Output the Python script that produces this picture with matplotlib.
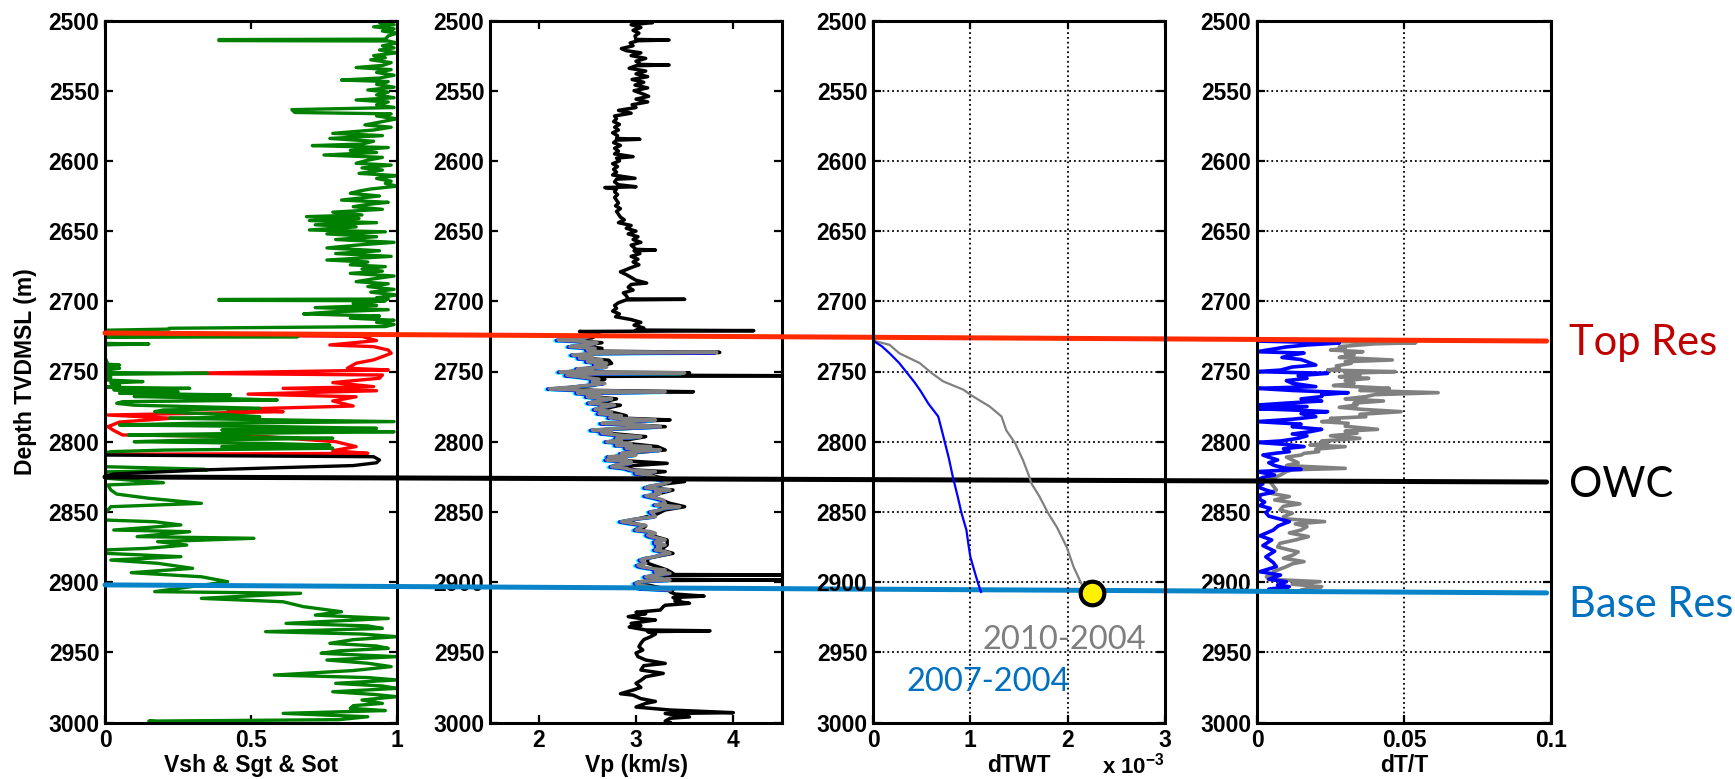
import matplotlib
matplotlib.use("Agg")
import matplotlib.pyplot as plt
from matplotlib.patches import ConnectionPatch
from matplotlib import patheffects as pe

plt.rcParams['font.family'] = ['Liberation Sans', 'DejaVu Sans']
plt.rcParams['mathtext.fontset'] = 'custom'
plt.rcParams['mathtext.rm'] = 'Liberation Sans:bold'
plt.rcParams['mathtext.default'] = 'rm'

# ---------------- data ----------------
depth_ticks = [2500, 2550, 2600, 2650, 2700, 2750, 2800, 2850, 2900, 2950, 3000]

# panel 1: Vsh (green), Sgt (red), Sot (black)
vsh_depth = [2500, 2501.5, 2503, 2504.5, 2506, 2507.5, 2509, 2511, 2513.3, 2513.6, 2514.3, 2514.6, 2516, 2518,
             2519.5, 2521, 2523, 2525, 2526.5, 2528, 2530, 2532, 2533.5, 2535, 2537, 2539, 2541, 2542.4, 2543.5,
             2545.5, 2547.5, 2549.5, 2551, 2553, 2555, 2556.6, 2558, 2560, 2562, 2563.5, 2565.5, 2566.5, 2568, 2570,
             2572, 2574.4, 2576, 2578, 2580.4, 2582, 2584, 2586, 2588, 2589.1, 2590.5, 2592.5, 2594, 2595.8, 2597.5,
             2599.5, 2601.7, 2603, 2605, 2606.5, 2608.9, 2610.5, 2612.5, 2614.5, 2616, 2618, 2620, 2621.5, 2623.1,
             2625, 2627.9, 2629.5, 2631, 2632.6, 2634.5, 2636.5, 2638.5, 2639.7, 2641, 2642.5, 2644, 2645.5, 2647,
             2649.2, 2650.5, 2652, 2654, 2656, 2658, 2660, 2662, 2664, 2666, 2668, 2670.6, 2672, 2674, 2675.3, 2677,
             2678.5, 2680.1, 2682, 2684, 2686, 2687.5, 2689.5, 2691.5, 2693.5, 2695.5, 2697.5, 2698.4, 2698.7,
             2699.3, 2699.6, 2701.4, 2703, 2704.5, 2706, 2707.5, 2709, 2710.5, 2712, 2713.5, 2715, 2716.5, 2718,
             2719.2, 2719.8, 2720.6, 2724.7, 2725.2, 2725.7, 2730.0, 2730.4, 2731.0, 2740, 2744.8, 2745.4, 2746.5,
             2747.7, 2749, 2750.8, 2751.3, 2752, 2754, 2756, 2757.2, 2758.2, 2759.6, 2761.2, 2762, 2763, 2764.4,
             2765.5, 2766.7, 2767.8, 2769.1, 2770.3, 2771.5, 2772.7, 2774, 2776.2, 2777.4, 2778.6, 2780.5, 2782.2,
             2783.3, 2784.5, 2785.7, 2786.9, 2788.1, 2789.3, 2790.5, 2791.7, 2792.9, 2794, 2795.2, 2796.4, 2797.6,
             2798.8, 2800, 2801.2, 2802.4, 2803.5, 2804.7, 2806, 2807.1, 2808, 2817.8, 2819.6, 2820.2, 2821.5,
             2826.1, 2829.2, 2830.8, 2834.4, 2837.3, 2840.3, 2843.9, 2846.3, 2851, 2855.8, 2857, 2859.3, 2862.9,
             2864.1, 2867.6, 2868.8, 2871.2, 2873.6, 2876, 2877.1, 2879.5, 2881.9, 2884.3, 2886.6, 2890.2, 2893.3,
             2896.2, 2899.7, 2902.8, 2906.8, 2908, 2911.6, 2914, 2917.5, 2921.1, 2923.5, 2925.9, 2929.4, 2931.2,
             2933, 2935.3, 2937, 2938.9, 2941, 2943.6, 2945.5, 2947.2, 2949, 2950.7, 2953.1, 2955.5, 2957.8,
             2960.2, 2963, 2966.2, 2968, 2969.7, 2972.1, 2974, 2975.7, 2978.1, 2980, 2981.6, 2984, 2986.4, 2988,
             2989.9, 2991.5, 2993.5, 2995.9, 2998, 2999, 2999.7]
vsh_value = [0.98, 0.94, 0.99, 0.92, 0.99, 0.95, 1.0, 0.97, 0.96, 0.39, 0.39, 0.97, 1.0, 0.95,
             0.99, 0.94, 1.0, 0.92, 0.96, 0.91, 0.98, 0.95, 0.86, 0.98, 0.93, 0.99, 0.94, 0.81, 0.97,
             0.93, 0.99, 0.9, 0.97, 0.93, 0.99, 0.86, 0.97, 0.93, 0.99, 0.64, 0.65, 0.98, 0.93, 1.0,
             0.95, 0.89, 0.98, 0.92, 0.78, 0.95, 0.77, 0.92, 0.88, 0.71, 0.97, 0.84, 0.93, 0.75, 0.95,
             0.9, 0.86, 0.98, 0.88, 0.95, 0.87, 1.0, 0.93, 0.98, 0.96, 1.0, 0.91, 0.87, 0.84,
             0.94, 0.81, 0.97, 0.9, 0.85, 0.95, 0.78, 0.88, 0.69, 0.87, 0.7, 0.93, 0.72, 0.86,
             0.7, 0.96, 0.76, 0.93, 0.79, 0.99, 0.86, 0.76, 0.94, 0.79, 0.98, 0.76, 0.9, 0.84, 0.96, 0.88,
             0.95, 0.84, 0.99, 0.92, 0.86, 0.97, 0.9, 0.99, 0.91, 1.0, 0.93, 0.97, 0.39,
             0.39, 0.96, 0.85, 0.93, 0.72, 0.97, 0.78, 0.68, 0.94, 0.84, 0.99, 0.93, 0.99, 0.96,
             0.22, 0.22, 0.0, 0.0, 0.66, 0.0, 0.0, 0.15, 0.0, 0.0, 0.01, 0.05, 0.01,
             0.05, 0.0, 0.02, 0.35, 0.0, 0.02, 0.0, 0.13, 0.02, 0.05, 0.0, 0.29, 0.03, 0.25,
             0.05, 0.43, 0.1, 0.38, 0.59, 0.06, 0.04, 0.1, 0.53, 0.2, 0.17, 0.4, 0.53,
             0.22, 0.6, 0.99, 0.3, 0.05, 0.6, 0.93, 0.4, 0.99, 0.5, 0.08, 0.45, 0.78,
             0.3, 0.1, 0.55, 0.77, 0.4, 0.78, 0.2, 0.02, 0.0, 0.0, 0.34, 0.35, 0.0,
             0.01, 0.2, 0.01, 0.02, 0.04, 0.15, 0.33, 0.02, 0.0, 0.0, 0.17, 0.26, 0.03,
             0.29, 0.11, 0.51, 0.18, 0.28, 0.14, 0.0, 0.0, 0.26, 0.02, 0.18, 0.30, 0.09,
             0.33, 0.42, 0.31, 0.17, 0.67, 0.33, 0.61, 0.68, 0.81, 0.72, 0.97, 0.62, 0.9,
             0.95, 0.55, 0.88, 1.0, 0.85, 0.77, 0.93, 0.97, 0.8, 0.74, 1.0, 0.76, 0.9,
             0.98, 0.85, 0.58, 0.9, 1.0, 0.79, 0.95, 1.0, 0.78, 0.92, 1.0, 0.88, 0.95, 0.85,
             0.84, 0.96, 0.61, 0.9, 0.8, 0.15, 0.2]

sgt_depth = [2723.5, 2725, 2728, 2731.1, 2732.3, 2734.7, 2737, 2739.4, 2741.7, 2744.1, 2747.7, 2748.9, 2751.3,
             2752.5, 2754.8, 2757.9, 2760.8, 2762, 2763.7, 2766.1, 2768, 2771, 2774.6, 2777, 2778.6, 2781,
             2783.3, 2786, 2789.3, 2792, 2795.2, 2796.4, 2800, 2803.5, 2806.4, 2808.3, 2809]
sgt_value = [0.0, 0.88, 0.93, 0.77, 0.92, 0.97, 0.98, 0.95, 0.92, 0.86, 0.83, 0.97, 0.27,
             0.95, 0.94, 0.78, 0.92, 0.61, 0.93, 0.49, 0.86, 0.78, 0.85, 0.42, 0.61, 0.01,
             0.23, 0.05, 0.01, 0.03, 0.06, 0.55, 0.79, 0.86, 0.78, 0.9, 0.0]

sot_depth = [2809.5, 2810.7, 2813, 2815, 2817, 2818.5, 2820, 2823, 2824.5]
sot_value = [0.0, 0.92, 0.94, 0.93, 0.85, 0.6, 0.35, 0.03, 0.0]

# panel 2: Vp baseline (black) and monitor (grey)
vp_depth = [2500, 2500.8, 2501.5, 2503, 2505, 2507, 2509, 2511, 2513.5, 2513.9, 2514.4, 2516, 2518, 2520, 2521.5,
            2523, 2525, 2527, 2529, 2531.3, 2531.7, 2532.2, 2534, 2536, 2538, 2540, 2542, 2544, 2546, 2548, 2550,
            2552, 2554, 2556, 2558, 2560, 2562, 2564, 2566, 2568, 2570, 2572, 2574, 2576, 2578, 2580, 2582, 2584,
            2584.6, 2585.2, 2587, 2589, 2591, 2593, 2595, 2597, 2598, 2600, 2602, 2604, 2606, 2608, 2610, 2612.4,
            2613, 2615, 2617, 2618.4, 2619, 2620, 2622, 2624, 2626, 2628, 2630, 2632, 2634, 2636, 2638, 2640,
            2642, 2644, 2646, 2648, 2650, 2652, 2654, 2656, 2658, 2660, 2663, 2663.5, 2664, 2666, 2668, 2670,
            2672, 2674, 2676, 2678, 2679, 2681, 2683, 2685, 2687, 2688, 2690, 2692, 2694, 2696, 2698.3, 2698.6,
            2699.0, 2701, 2703, 2705, 2707, 2709, 2711, 2713, 2715, 2717, 2719, 2720.5, 2720.9, 2721.5, 2722.5,
            2724, 2726, 2727.6, 2729.5, 2731.5, 2733.5, 2735.5, 2736.4, 2737.2, 2738.2, 2740.6, 2742, 2744.2,
            2746, 2748, 2750.3, 2750.9, 2752.5, 2753, 2753.5, 2755.5, 2757.2, 2759.8, 2762.3, 2763.5, 2764.4,
            2765.3, 2768, 2769.5, 2772.5, 2774, 2777, 2781.5, 2783, 2784.5, 2785.5, 2786.9, 2789.3, 2791.7, 2794,
            2796.4, 2798.8, 2800, 2803.5, 2805.9, 2808.3, 2810.7, 2813, 2815.4, 2817.8, 2820.2, 2821.3, 2823,
            2825.5, 2828.4, 2830, 2833, 2834.4, 2838.5, 2843.9, 2846.3, 2848.6, 2852, 2856.9, 2860, 2862.9,
            2867.6, 2870, 2873.6, 2877.1, 2879.5, 2883, 2886.6, 2891.4, 2893.8, 2894.6, 2894.9, 2895.4, 2897.4,
            2898.2, 2898.5, 2898.9, 2900.9, 2903.3, 2905.6, 2907, 2908.5, 2910, 2911, 2912.5, 2913.5, 2915.1,
            2916.5, 2917.5, 2919.9, 2921.5, 2922.5, 2924.6, 2926, 2927, 2929.4, 2931, 2932, 2934.1, 2934.7,
            2935.3, 2937, 2938.9, 2941, 2943.6, 2946, 2948.4, 2950.5, 2953.1, 2955.5, 2957.9, 2959.5, 2962.6,
            2965, 2967.4, 2970, 2972.1, 2975, 2976.9, 2979.5, 2980.5, 2983, 2985, 2986.4, 2989, 2991.1, 2993,
            2993.6, 2996, 2997, 2999, 3000]
vp_value = [2.84, 3.1, 3.17, 2.95, 3.05, 2.97, 3.03, 2.99, 3.0, 3.34, 3.02, 2.94, 2.97, 2.85, 2.9,
            3.05, 2.95, 3.1, 3.0, 3.05, 3.34, 3.0, 2.93, 3.1, 3.0, 3.12, 2.96, 3.08, 2.99, 3.12, 2.98,
            3.06, 3.13, 3.0, 3.12, 2.96, 3.0, 2.82, 2.95, 2.78, 2.8, 2.77, 2.83, 2.78, 2.82, 2.76, 2.81, 2.8,
            3.04, 2.8, 2.77, 2.84, 2.78, 2.82, 2.78, 2.97, 2.8, 2.83, 2.76, 2.81, 2.77, 2.8, 2.76, 2.99,
            2.8, 2.78, 2.82, 3.0, 2.68, 2.8, 2.78, 2.81, 2.78, 2.8, 2.82, 2.79, 2.84, 2.8, 2.82, 2.84,
            2.88, 2.82, 2.95, 2.9, 3.0, 2.92, 3.02, 2.97, 3.05, 2.95, 3.0, 3.2, 2.98, 3.04, 2.95, 3.02,
            2.97, 3.03, 2.95, 2.88, 2.84, 2.9, 2.95, 3.0, 3.11, 2.95, 2.92, 2.97, 2.87, 2.9, 2.92, 3.5,
            2.9, 2.82, 2.78, 2.8, 2.76, 2.83, 2.79, 2.95, 3.05, 2.98, 3.08, 3.0, 4.21, 2.42, 2.62,
            2.6, 2.55, 2.3, 2.65, 2.45, 2.65, 2.6, 3.86, 2.65, 2.42, 2.5, 2.72, 2.75,
            2.62, 2.48, 2.3, 3.55, 2.45, 4.6, 2.5, 2.68, 2.62, 2.58, 2.2, 2.6, 3.59,
            2.5, 2.58, 2.8, 2.6, 2.84, 2.64, 2.9, 2.78, 3.35, 3.0, 2.72, 3.3, 2.6, 2.72,
            3.1, 2.9, 2.75, 3.22, 3.3, 2.92, 2.78, 2.75, 3.32, 2.8, 3.0, 3.3, 3.05,
            3.25, 3.5, 3.3, 3.15, 3.38, 3.15, 3.35, 3.5, 3.3, 3.2, 2.9, 3.1, 3.05,
            3.2, 3.32, 3.32, 3.25, 3.38, 3.12, 3.12, 3.32, 3.38, 3.3, 4.6, 3.25, 3.28,
            3.3, 4.6, 3.1, 3.05, 3.2, 3.38, 3.35, 3.4, 3.7, 3.38, 3.45, 3.4, 3.55,
            3.3, 3.28, 3.25, 3.0, 3.1, 2.92, 3.05, 3.2, 2.95, 3.05, 2.93, 3.1, 3.76,
            3.12, 3.2, 3.15, 3.08, 3.05, 3.03, 3.07, 3.0, 3.02, 3.1, 3.3, 3.08, 3.05,
            3.28, 3.1, 3.05, 3.0, 3.05, 2.97, 2.84, 2.97, 3.05, 3.2, 3.1, 3.0, 3.35, 4.0,
            3.3, 3.55, 3.35, 3.3, 3.35]

vp_monitor_depth = [2724.5, 2726, 2727.6, 2728.5, 2729.5, 2730.5, 2731.5, 2732.3, 2733.5, 2734.7, 2735.8, 2736.4,
                    2737, 2738.2, 2739.5, 2740.6, 2741.8, 2743, 2744.2, 2745.4, 2746.8, 2748, 2749.2, 2750.3,
                    2750.9, 2751.5, 2752.7, 2754, 2755.5, 2757.2, 2758.5, 2759.8, 2761, 2762.3, 2763.5, 2764.4,
                    2765.3, 2766.8, 2768, 2769.5, 2771, 2772.5, 2774, 2775.5, 2777, 2778.5, 2780, 2781.5, 2783,
                    2784.5, 2785.5, 2786.9, 2788, 2789.3, 2790.5, 2791.7, 2793, 2794, 2795.5, 2796.4, 2797.6,
                    2798.8, 2800, 2801.2, 2802.5, 2803.5, 2804.7, 2805.9, 2807, 2808.3, 2809.5, 2810.7, 2812,
                    2813, 2814.2, 2815.4, 2816.6, 2817.8, 2819, 2820.2, 2821.3, 2822.5, 2824, 2825.5, 2826.1,
                    2827.5, 2828.4, 2830, 2831.6, 2832.8, 2834.4, 2835.5, 2837, 2838.5, 2840, 2841.5, 2843.9,
                    2845, 2846.3, 2847.5, 2848.6, 2850, 2851.5, 2853.4, 2855, 2856.9, 2858.1, 2859.5, 2861,
                    2862.9, 2864, 2865.3, 2866.5, 2867.6, 2869, 2870, 2871.2, 2872.4, 2873.6, 2874.8, 2876,
                    2877.1, 2878.3, 2879.5, 2880.7, 2881.9, 2883, 2884.3, 2885.5, 2886.6, 2888, 2889, 2890.2,
                    2891.4, 2892.6, 2893.8, 2895, 2896.2, 2897.4, 2898.5, 2899.5, 2900.9, 2902, 2903.3, 2904.5,
                    2905.6]
vp_monitor_value = [2.55, 2.48, 2.2, 2.45, 2.6, 2.55, 2.38, 2.32, 2.58, 2.5, 2.6, 3.83,
                    2.6, 2.35, 2.55, 2.42, 2.65, 2.5, 2.7, 2.58, 2.7, 2.4, 2.55, 2.22,
                    3.5, 2.6, 2.29, 2.45, 2.62, 2.55, 2.68, 2.5, 2.35, 2.11, 2.5, 3.3,
                    2.4, 2.62, 2.5, 2.75, 2.6, 2.52, 2.78, 2.65, 2.58, 2.75, 2.62, 2.85, 2.73,
                    3.2, 2.95, 2.65, 3.0, 3.25, 2.8, 2.55, 2.75, 2.65, 2.85, 3.05, 2.8,
                    2.85, 2.7, 2.95, 2.8, 3.15, 2.9, 3.25, 3.0, 2.85, 3.0, 2.72, 2.9,
                    2.7, 2.95, 2.95, 2.8, 2.75, 2.9, 2.95, 3.2, 3.0, 3.15, 3.2, 3.18,
                    3.3, 3.35, 3.28, 3.15, 3.1, 3.35, 3.2, 3.25, 3.1, 3.2, 3.28, 3.3,
                    3.2, 3.45, 3.28, 3.25, 3.15, 3.18, 3.2, 3.0, 2.85, 2.95, 3.1, 3.05,
                    3.0, 3.15, 3.2, 3.12, 3.15, 3.25, 3.3, 3.2, 3.2, 3.3, 3.22, 3.25,
                    3.2, 3.3, 3.35, 3.25, 3.2, 3.1, 3.05, 3.08, 3.1, 3.02, 3.05, 3.15,
                    3.3, 3.2, 3.35, 3.2, 3.1, 3.25, 3.35, 3.05, 3.0, 3.02, 3.15, 3.05,
                    3.35]

# panel 3: dTWT
dtwt07_depth = [2728, 2732, 2737, 2744, 2751, 2758, 2764, 2773, 2782, 2790, 2801, 2812, 2825, 2839, 2851, 2863,
                2873, 2882, 2894, 2901, 2907]
dtwt07_value = [0, 0.09e-3, 0.17e-3, 0.27e-3, 0.35e-3, 0.43e-3, 0.49e-3, 0.57e-3, 0.67e-3, 0.70e-3, 0.74e-3,
                0.78e-3, 0.82e-3, 0.87e-3, 0.91e-3, 0.96e-3, 0.98e-3, 1.00e-3, 1.05e-3, 1.08e-3, 1.11e-3]
dtwt10_depth = [2728, 2731, 2737, 2744, 2751, 2757, 2763, 2767, 2775, 2782, 2792, 2801, 2813, 2822, 2830, 2839,
                2851, 2861, 2875, 2889, 2901]
dtwt10_value = [0, 0.17e-3, 0.27e-3, 0.48e-3, 0.60e-3, 0.72e-3, 0.93e-3, 1.01e-3, 1.20e-3, 1.32e-3, 1.37e-3,
                1.46e-3, 1.54e-3, 1.59e-3, 1.63e-3, 1.71e-3, 1.80e-3, 1.89e-3, 1.99e-3, 2.06e-3, 2.14e-3]
marker_depth = [2907.6]
marker_value = [2.245e-3]

# panel 4: dT/T
dtt10_depth = [2728.5, 2729.5, 2730.3, 2731.1, 2732.3, 2733.5, 2734.7, 2735.9, 2737, 2738.2, 2740, 2741.8, 2743,
               2744.2, 2746, 2747.7, 2749, 2750.1, 2751.3, 2752.5, 2753.7, 2754.9, 2756.5, 2758.4, 2760, 2762,
               2763.5, 2765.1, 2766.5, 2767.9, 2769.5, 2771, 2772.5, 2773.9, 2775.5, 2777, 2778.6, 2780.5,
               2782.2, 2783.4, 2784.5, 2785.7, 2786.9, 2789, 2791.2, 2792.5, 2794, 2795.8, 2797.6, 2799.5,
               2801.2, 2802.4, 2803.5, 2805.3, 2807.1, 2808.3, 2809.5, 2811, 2813, 2815, 2817, 2819, 2820,
               2821.3, 2823.7, 2825.5, 2827.3, 2834.4, 2836.5, 2839.1, 2841.5, 2844.3, 2846, 2848.6, 2851,
               2853.4, 2855, 2856.9, 2858.5, 2860.5, 2862.9, 2865, 2867.6, 2870, 2872.4, 2875, 2877.1, 2878.5,
               2880.7, 2883, 2885.4, 2887, 2889, 2892.6, 2894.5, 2896.2, 2898, 2899.7, 2901.5, 2903.3, 2904.5,
               2905.6, 2907]
dtt10_value = [0.02, 0.054, 0.04, 0.035, 0.028, 0.03, 0.025, 0.036, 0.03, 0.033, 0.028, 0.046, 0.03,
               0.032, 0.027, 0.028, 0.024, 0.047, 0.03, 0.035, 0.028, 0.038, 0.03, 0.033, 0.026, 0.045,
               0.035, 0.0616, 0.04, 0.037, 0.03, 0.043, 0.033, 0.034, 0.028, 0.036, 0.049, 0.035,
               0.037, 0.025, 0.028, 0.022, 0.031, 0.03, 0.041, 0.03, 0.034, 0.025, 0.035, 0.022,
               0.024, 0.018, 0.03, 0.02, 0.021, 0.016, 0.015, 0.01, 0.012, 0.014, 0.01, 0.03, 0.012,
               0.01, 0.008, 0.006, 0.004, 0.0066, 0.004, 0.011, 0.006, 0.0146, 0.009, 0.0078, 0.012,
               0.009, 0.01, 0.023, 0.013, 0.017, 0.015, 0.011, 0.0175, 0.013, 0.0078, 0.007, 0.011, 0.014,
               0.0123, 0.009, 0.016, 0.012, 0.01, 0.0055, 0.006, 0.0032, 0.004, 0.0215, 0.012, 0.022, 0.018,
               0.015, 0.02]
dtt07_depth = [2728.3, 2729.7, 2731.1, 2732.5, 2735.9, 2736.9, 2738.2, 2740, 2741.5, 2743, 2745.4, 2746.8, 2749,
               2750.1, 2751.3, 2753, 2754.9, 2756.5, 2758.4, 2760.8, 2762, 2763.5, 2765.1, 2766.5, 2767.9,
               2769.5, 2771, 2772.5, 2773.9, 2775, 2776.5, 2777.4, 2778.6, 2780, 2782.2, 2784, 2785.7, 2787.5,
               2789.3, 2791.2, 2792.9, 2794.5, 2795.8, 2797.6, 2799.5, 2800.5, 2802, 2803.5, 2805, 2807.1,
               2808.3, 2809.5, 2811, 2813, 2815, 2817, 2819, 2819.7, 2821.3, 2823.7, 2825.5, 2827.3, 2830,
               2832, 2834.4, 2836, 2838, 2841, 2843, 2845.5, 2847.5, 2850.5, 2853, 2856.9, 2860, 2863, 2867,
               2870, 2874, 2878, 2882, 2886, 2889, 2892.6, 2895, 2898, 2899.7, 2902, 2903.3, 2905, 2906.5]
dtt07_value = [0.0, 0.028, 0.017, 0.01, 0.0, 0.016, 0.012, 0.0085, 0.015, 0.017, 0.02, 0.012, 0.008,
               0.0, 0.024, 0.014, 0.017, 0.01, 0.012, 0.02, 0.0, 0.012, 0.031, 0.022, 0.022,
               0.015, 0.022, 0.01, 0.0, 0.017, 0.0, 0.012, 0.024, 0.015, 0.02, 0.012, 0.0, 0.015,
               0.012, 0.022, 0.018, 0.012, 0.017, 0.014, 0.008, 0.0, 0.01, 0.016, 0.009, 0.011,
               0.006, 0.002, 0.004, 0.007, 0.004, 0.006, 0.01, 0.015, 0.0, 0.006, 0.002, 0.0, 0.002,
               0.0, 0.003, 0.0055, 0.001, 0.0009, 0.0026, 0.001, 0.0045, 0.003, 0.004, 0.011, 0.0072, 0.0055,
               0.001, 0.005, 0.002, 0.006, 0.003, 0.0055, 0.0066, 0.0009, 0.008, 0.004, 0.01, 0.007, 0.011,
               0.004, 0.011]

# horizons (depth at left end in panel 1, depth at right end in panel 4)
horizon_names = ['Top Res', 'OWC', 'Base Res']
horizon_depth_left = [2722.6, 2825.1, 2902.0]
horizon_depth_right = [2728.3, 2828.7, 2907.7]
horizon_label_depth = [2729.7, 2830.8, 2916.3]
horizon_colors = ['#FF2A00', '#000000', '#0A84C8']
horizon_text_colors = ['#C00000', '#000000', '#0070C0']

# axes settings
xlims = [(0, 1), (1.5, 4.5), (0, 3e-3), (0, 0.1)]
xtick_values = [[0, 0.5, 1], [2, 3, 4], [0, 1e-3, 2e-3, 3e-3], [0, 0.05, 0.1]]
xtick_labels = [['0', '0.5', '1'], ['2', '3', '4'], ['0', '1', '2', '3'], ['0', '0.05', '0.1']]
xlabels = ['Vsh & Sgt & Sot', 'Vp (km/s)', 'dTWT', 'dT/T']

# ---------------- figure ----------------
fig = plt.figure(figsize=(17.35, 7.79), dpi=100)
W, H = 1735.0, 779.0
lefts = [105, 490, 873, 1257]
widths = [292, 292, 292, 294]
top_px, bot_px = 20.5, 722.5
axes = []
for l, w in zip(lefts, widths):
    axes.append(fig.add_axes([l / W, 1 - bot_px / H, w / W, (bot_px - top_px) / H]))
ax1, ax2, ax3, ax4 = axes

for i, ax in enumerate(axes):
    ax.set_xlim(*xlims[i])
    ax.set_ylim(3000, 2500)
    ax.set_yticks(depth_ticks)
    ax.set_yticklabels([str(d) for d in depth_ticks])
    ax.set_xticks(xtick_values[i])
    ax.set_xticklabels(xtick_labels[i])
    ax.tick_params(direction='in', length=6, width=1.6, top=True, right=True,
                   labelsize=16.5)
    ax.tick_params(axis='x', pad=5)
    ax.tick_params(axis='y', pad=4)
    for lab in ax.get_xticklabels() + ax.get_yticklabels():
        lab.set_fontweight('bold')
    for sp in ax.spines.values():
        sp.set_linewidth(2.2)
    ax.set_xlabel(xlabels[i], fontsize=16.5, fontweight='bold', labelpad=1)

ax1.set_ylabel('Depth TVDMSL (m)', fontsize=16.5, fontweight='bold', labelpad=8)

# panel 1
ax1.plot(sgt_value, sgt_depth, color='#FF0000', lw=2.4)
ax1.plot(vsh_value, vsh_depth, color='#008000', lw=2.4)
ax1.plot(sot_value, sot_depth, color='black', lw=2.4)

# panel 2
ax2.plot(vp_value, vp_depth, color='black', lw=2.5)
ax2.plot(vp_monitor_value, vp_monitor_depth, color='#808080', lw=2.5,
         path_effects=[pe.SimpleLineShadow(offset=(-2.4, -0.5), shadow_color='#00FFFF', alpha=1.0),
                       pe.SimpleLineShadow(offset=(-1.2, -0.3), shadow_color='#0000FF', alpha=1.0),
                       pe.Normal()])

# panel 3
ax3.grid(True, linestyle=':', color='black', linewidth=1.3)
ax3.plot(dtwt10_value, dtwt10_depth, color='#808080', lw=1.6)
ax3.plot(dtwt07_value, dtwt07_depth, color='#0000FF', lw=1.6)
ax3.plot(marker_value, marker_depth, 'o', ms=17, mfc='#FFF200', mec='black', mew=3, zorder=5)
ax3.text(1.0, -0.062, r'x 10$^{-3}$', transform=ax3.transAxes, ha='right', va='center',
         fontsize=16, fontweight='bold')
ax3.text(1.127e-3, 2941.2, '2010-2004', color='#7F7F7F', fontsize=23.5, family='Lato',
         ha='left', va='center')
ax3.text(0.346e-3, 2971.1, '2007-2004', color='#0070C0', fontsize=23.5, family='Lato',
         ha='left', va='center')
ax3.set_zorder(2)
ax3.patch.set_alpha(0)

# panel 4
ax4.grid(True, linestyle=':', color='black', linewidth=1.3)
ax4.plot(dtt10_value, dtt10_depth, color='#808080', lw=2.6)
ax4.plot(dtt07_value, dtt07_depth, color='#0000FF', lw=2.6)

# horizon lines across all panels
for name, dl, dr, c, tc, dlab in zip(horizon_names, horizon_depth_left, horizon_depth_right,
                                     horizon_colors, horizon_text_colors, horizon_label_depth):
    con = ConnectionPatch(xyA=(xlims[0][0], dl), coordsA='data', axesA=ax1,
                          xyB=(0.0985, dr), coordsB='data', axesB=ax4,
                          color=c, lw=3.6, zorder=1)
    fig.add_artist(con)
    ax4.text(1.06, dlab, name, transform=ax4.get_yaxis_transform(), color=tc,
             fontsize=30, family='Lato', ha='left', va='center', clip_on=False)

fig.savefig('out.png', dpi=100)
